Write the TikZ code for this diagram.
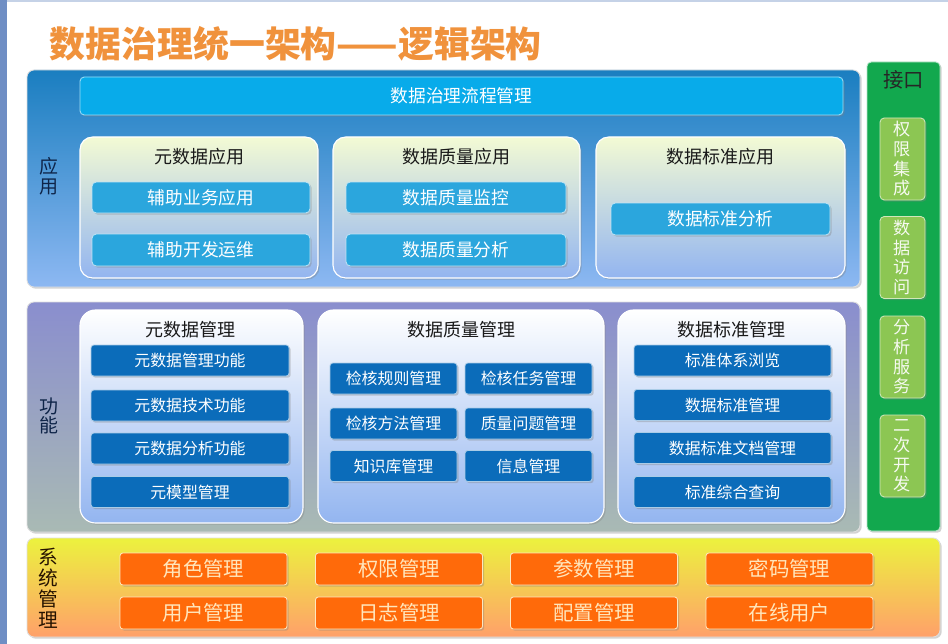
\documentclass[tikz,border=0pt]{standalone}
\usepackage{fontspec}
\setmainfont{Noto Sans CJK SC}
\usetikzlibrary{shadows}

\definecolor{titleorange}{HTML}{F0923C}
\definecolor{apptop}{HTML}{1A7EC0}
\definecolor{appbottom}{HTML}{8DB8F2}
\definecolor{flowblue}{HTML}{08ABEA}
\definecolor{appbtn}{HTML}{2BA6DD}
\definecolor{grpyellow}{HTML}{F3FAD4}
\definecolor{grpblue}{HTML}{93B5F0}
\definecolor{funtop}{HTML}{8A8ECE}
\definecolor{funmid}{HTML}{C6CFF0}
\definecolor{funbottom}{HTML}{A9BAB4}
\definecolor{funbtn}{HTML}{0B6CBA}
\definecolor{systop}{HTML}{ECF23E}
\definecolor{sysbottom}{HTML}{FFA06A}
\definecolor{sysbtn}{HTML}{FF6A0A}
\definecolor{systext}{HTML}{FFE6BC}
\definecolor{ifgreen}{HTML}{12A84E}
\definecolor{ifbtn}{HTML}{8CC653}
\definecolor{labelnavy}{HTML}{0E2448}
\definecolor{framegray}{HTML}{6F8EC4}

\begin{document}
\begin{tikzpicture}[x=0.025cm,y=-0.025cm,
    size/.style 2 args={minimum width=#1*0.025cm, minimum height=#2*0.025cm, inner sep=0pt, outer sep=0pt},
    shade/.style={drop shadow={shadow xshift=1.2pt, shadow yshift=-1.2pt, opacity=0.35}},
    layer/.style={rounded corners=5pt, draw=white!75!gray, line width=0.6pt, shade},
    appgroup/.style={rounded corners=9pt, draw=white, line width=0.8pt, top color=grpyellow, bottom color=grpblue, shade},
    fungroup/.style={rounded corners=11pt, draw=white, line width=0.8pt, top color=white, bottom color=grpblue, shade},
    appbox/.style={rounded corners=3pt, draw=white!70!appbtn, line width=0.6pt, fill=appbtn, text=white, shade,
        font=\fontsize{12.6}{14}\selectfont},
    funbox/.style={rounded corners=2pt, draw=white!65!funbtn, line width=0.6pt, fill=funbtn, text=white, shade,
        font=\fontsize{11.3}{13}\selectfont},
    sysbox/.style={rounded corners=2pt, draw=systext, line width=0.6pt, fill=sysbtn, text=systext, shade,
        font=\fontsize{14.5}{16}\selectfont},
    ifbox/.style={rounded corners=3pt, draw=white!60!ifbtn, line width=0.6pt, fill=ifbtn, text=white!92!ifbtn, shade,
        align=center, font=\fontsize{12.2}{14}\selectfont},
    grouptitle/.style={text=black!90, font=\fontsize{12.8}{14}\selectfont},
    sidelabel/.style={align=center, text=labelnavy, font=\fontsize{13.5}{14}\selectfont}]

% Page
\useasboundingbox (0,0) rectangle (948,644);
\fill[white] (0,0) rectangle (948,644);
\fill[framegray] (0,0) rectangle (7,644);
\fill[framegray!40] (7,0) rectangle (948,2);

% Title
\node (title) at (45,44) [anchor=west, text=titleorange, font=\fontsize{25.5}{28}\selectfont\bfseries]
    {数据治理统一架构——逻辑架构};

% Layer: application
\node (app) at (443.5,178.5) [layer, size={833}{217}, top color=apptop, bottom color=appbottom] {};
\node (applabel) at (49,176) [sidelabel] {应\\用};
\node (flow) at (461.5,96) [size={763}{38}, rounded corners=3pt, fill=flowblue, draw=white!60!flowblue,
    line width=0.6pt, text=white, shade, font=\fontsize{12.6}{14}\selectfont] {数据治理流程管理};

\node (metaapp) at (199,207.5) [appgroup, size={238}{141}] {};
\node (metaapptitle) at (199,157) [grouptitle] {元数据应用};
\node (bizapp) at (201,197.5) [appbox, size={218}{31}] {辅助业务应用};
\node (devops) at (201,250) [appbox, size={218}{32}] {辅助开发运维};

\node (qualapp) at (456.5,207.5) [appgroup, size={247}{141}] {};
\node (qualapptitle) at (456.5,157) [grouptitle] {数据质量应用};
\node (qualmon) at (456,197.5) [appbox, size={220}{31}] {数据质量监控};
\node (qualana) at (456,250) [appbox, size={220}{32}] {数据质量分析};

\node (stdapp) at (720.5,207.5) [appgroup, size={249}{141}] {};
\node (stdapptitle) at (720.5,157) [grouptitle] {数据标准应用};
\node (stdana) at (720.5,219) [appbox, size={219}{32}] {数据标准分析};

% Layer: functions
\node (fun) at (443.5,417) [layer, size={833}{230}, top color=funtop, middle color=funmid, bottom color=funbottom] {};
\node (funlabel) at (49,416) [sidelabel] {功\\能};

\node (metamgr) at (191.5,416.5) [fungroup, size={223}{213}] {};
\node (metamgrtitle) at (190,330) [grouptitle] {元数据管理};
\node (metafun) at (190,360.5) [funbox, size={198}{31}] {元数据管理功能};
\node (metatech) at (190,405.5) [funbox, size={198}{31}] {元数据技术功能};
\node (metaana) at (190,448.5) [funbox, size={198}{31}] {元数据分析功能};
\node (metamodel) at (190,492) [funbox, size={198}{31}] {元模型管理};

\node (qualmgr) at (461,416.5) [fungroup, size={286}{213}] {};
\node (qualmgrtitle) at (461,330) [grouptitle] {数据质量管理};
\node (rulemgr) at (393.5,378.5) [funbox, size={127}{31}] {检核规则管理};
\node (taskmgr) at (528.5,378.5) [funbox, size={127}{31}] {检核任务管理};
\node (methodmgr) at (393.5,423.5) [funbox, size={127}{31}] {检核方法管理};
\node (issuemgr) at (528.5,423.5) [funbox, size={127}{31}] {质量问题管理};
\node (kbmgr) at (393.5,466) [funbox, size={127}{31}] {知识库管理};
\node (infomgr) at (528.5,466) [funbox, size={127}{31}] {信息管理};

\node (stdmgr) at (731.5,416.5) [fungroup, size={227}{213}] {};
\node (stdmgrtitle) at (731,330) [grouptitle] {数据标准管理};
\node (stdbrowse) at (732.5,360.5) [funbox, size={197}{31}] {标准体系浏览};
\node (stdedit) at (732.5,405) [funbox, size={197}{31}] {数据标准管理};
\node (stddoc) at (732.5,448) [funbox, size={197}{31}] {数据标准文档管理};
\node (stdquery) at (732.5,492) [funbox, size={197}{31}] {标准综合查询};

% Layer: system management
\node (sys) at (483.5,587.5) [layer, size={913}{99}, top color=systop, bottom color=sysbottom] {};
\node (syslabel) at (48,588) [align=center, text=black!85!orange, font=\fontsize{14}{15}\selectfont]
    {系\\统\\管\\理};
\node (rolemgr) at (203.5,569) [sysbox, size={167}{32}] {角色管理};
\node (permmgr) at (399,569) [sysbox, size={167}{32}] {权限管理};
\node (parammgr) at (594,569) [sysbox, size={167}{32}] {参数管理};
\node (pwdmgr) at (789.5,569) [sysbox, size={167}{32}] {密码管理};
\node (usermgr) at (203.5,613) [sysbox, size={167}{32}] {用户管理};
\node (logmgr) at (399,613) [sysbox, size={167}{32}] {日志管理};
\node (cfgmgr) at (594,613) [sysbox, size={167}{32}] {配置管理};
\node (online) at (789.5,613) [sysbox, size={167}{32}] {在线用户};

% Interface column
\node (iface) at (903.5,296.5) [size={73}{469}, rounded corners=3pt, fill=ifgreen, draw=white!70!ifgreen,
    line width=0.6pt, shade] {};
\node (ifacetitle) at (903.5,80) [text=black!85, font=\fontsize{14.5}{16}\selectfont] {接口};
\node (authint) at (902.5,159) [ifbox, size={45}{82}] {权\\限\\集\\成};
\node (dataacc) at (902.5,257.5) [ifbox, size={45}{82}] {数\\据\\访\\问};
\node (anasvc) at (902.5,357) [ifbox, size={45}{82}] {分\\析\\服\\务};
\node (secdev) at (902.5,456) [ifbox, size={45}{82}] {二\\次\\开\\发};

\end{tikzpicture}
\end{document}
